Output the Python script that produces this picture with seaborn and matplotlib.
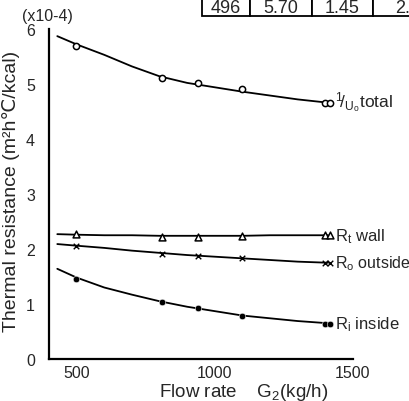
import matplotlib
matplotlib.use('Agg')
import matplotlib.pyplot as plt
import numpy as np
import pandas as pd
import seaborn as sns

# measured points (flow rate G2 in kg/h, resistance x1e-4)
flow = [496, 808, 938, 1100]
total_pts = [5.70, 5.11, 5.02, 4.91]
wall_pts = [2.27, 2.22, 2.22, 2.23]
outside_pts = [2.05, 1.91, 1.87, 1.83]
inside_pts = [1.45, 1.04, 0.93, 0.79]

# doubled markers at the right end of each curve
end_flow = [1400, 1416]
total_end = [4.65, 4.65]
wall_end = [2.25, 2.25]
outside_end = [1.75, 1.75]
inside_end = [0.64, 0.64]

# fitted curves
curve_flow = [430, 500, 600, 700, 800, 900, 1000, 1100, 1200, 1300, 1410]
total_curve = [5.87, 5.72, 5.53, 5.32, 5.14, 5.02, 4.94, 4.86, 4.79, 4.72, 4.66]
wall_curve = [2.27, 2.26, 2.25, 2.25, 2.24, 2.24, 2.24, 2.24, 2.25, 2.25, 2.25]
outside_curve = [2.09, 2.06, 2.02, 1.97, 1.93, 1.89, 1.86, 1.83, 1.80, 1.77, 1.75]
inside_curve = [1.64, 1.48, 1.30, 1.17, 1.05, 0.95, 0.87, 0.79, 0.74, 0.69, 0.65]

table_row = ['496', '5.70', '1.45', '2.2']

sns.set_style('white')
plt.rcParams['font.family'] = ['Liberation Sans', 'DejaVu Sans']
plt.rcParams['mathtext.fontset'] = 'custom'
plt.rcParams['mathtext.rm'] = 'Liberation Sans'
plt.rcParams['mathtext.it'] = 'Liberation Sans'

fig = plt.figure(figsize=(4.10, 4.02), dpi=100)
ax = fig.add_axes([49/410, 42/402, 304/410, 330/402])

curves = pd.DataFrame({'flow': curve_flow, 'total': total_curve, 'wall': wall_curve,
                       'outside': outside_curve, 'inside': inside_curve})
pts = pd.DataFrame({'flow': flow, 'total': total_pts, 'wall': wall_pts,
                    'outside': outside_pts, 'inside': inside_pts})
ends = pd.DataFrame({'flow': end_flow, 'total': total_end, 'wall': wall_end,
                     'outside': outside_end, 'inside': inside_end})

for col in ['total', 'wall', 'outside', 'inside']:
    sns.lineplot(x='flow', y=col, data=curves, ax=ax, color='black', lw=1.3)

styles = {
    'total': dict(marker='o', facecolor='white', edgecolor='black', s=20, linewidth=1.1),
    'wall': dict(marker='^', facecolor='white', edgecolor='black', s=24, linewidth=1.1),
    'outside': dict(marker='x', color='black', s=16, linewidth=1.0),
    'inside': dict(marker='o', color='black', s=22),
}
for col, st in styles.items():
    sns.scatterplot(x='flow', y=col, data=pts, ax=ax, zorder=3, **st)
    sns.scatterplot(x='flow', y=col, data=ends, ax=ax, zorder=3, **st)

# curve labels
ax.text(1436, 4.68, r'$^{1}\!/_{U_o}$total', fontsize=12.5, va='center', clip_on=False)
ax.text(1436, 2.25, r'R$_{t}$ wall', fontsize=12, va='center', clip_on=False)
ax.text(1436, 1.75, r'R$_{o}$ outside', fontsize=11.5, va='center', clip_on=False)
ax.text(1436, 0.64, r'R$_{i}$ inside', fontsize=12, va='center', clip_on=False)

ax.set_xlim(400, 1500)
ax.set_ylim(0, 6)
ax.set_xticks([500, 1000, 1500])
ax.set_yticks([0, 1, 2, 3, 4, 5, 6])
ax.tick_params(direction='inout', length=8, width=1.2, labelsize=11.5, color='black')
ax.tick_params(axis='y', pad=6)
ax.tick_params(axis='x', pad=0.5)
ax.spines['top'].set_visible(False)
ax.spines['right'].set_visible(False)
for s in ['left', 'bottom']:
    ax.spines[s].set_linewidth(1.6)
    ax.spines[s].set_color('black')

ax.set_xlabel(r'Flow rate    G$_2$(kg/h)', fontsize=13.5)
ax.xaxis.set_label_coords(0.64, -0.066)
ax.set_ylabel('Thermal resistance (m²h℃/kcal)', fontsize=14)
ax.yaxis.set_label_coords(-0.095, 0.51)
fig.text(22/410, 1 - 17/402, '(x10-4)', fontsize=11.5, va='center')

# cropped table fragment at the top right
tab = fig.add_axes([202/410, 1 - 17/402, 240/410, 17/402])
tab.set_axis_off()
t = tab.table(cellText=[table_row], bbox=[0, 0, 1, 1], cellLoc='center',
              colWidths=[48, 62, 61, 69])
t.auto_set_font_size(False)
for (r, c), cell in t.get_celld().items():
    cell.set_fontsize(13)
    cell.set_linewidth(1.3)

fig.savefig('out.png', dpi=100)
